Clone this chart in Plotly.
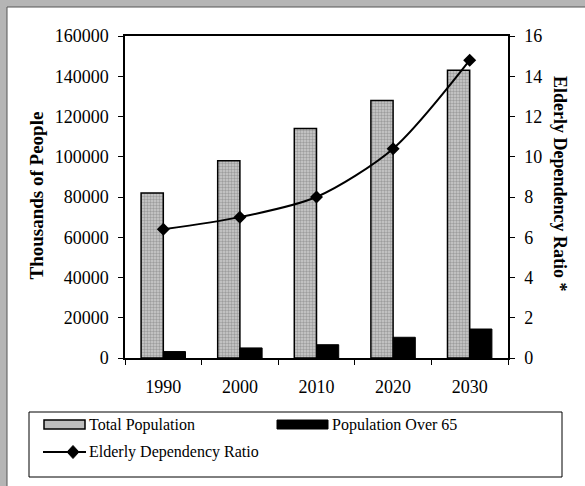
import plotly.graph_objects as go

years = ["1990", "2000", "2010", "2020", "2030"]
total_population = [82000, 98000, 114000, 128000, 143000]
population_over_65 = [3200, 5000, 6600, 10300, 14400]
dependency_ratio = [6.4, 7.0, 8.0, 10.4, 14.8]

legend_labels = ["Total Population", "Population Over 65", "Elderly Dependency Ratio"]

W, H = 585, 486
L, R, T, B = 125, 77, 36, 128
PW, PH = W - L - R, H - T - B


def px_x(p):
    return (p - L) / PW


def px_y(p):
    return (H - B - p) / PH


FONT = "Liberation Serif, Times New Roman, serif"
GRAY = "#bdbdbd"

fig = go.Figure()
fig.add_trace(go.Bar(
    x=years, y=total_population, name=legend_labels[0],
    marker=dict(color=GRAY, line=dict(color="black", width=1.5),
                pattern=dict(shape=".", fgcolor="#6e6e6e", bgcolor="#cdcdcd", size=3, solidity=0.5)),
))
fig.add_trace(go.Bar(
    x=years, y=population_over_65, name=legend_labels[1],
    marker=dict(color="black", line=dict(color="black", width=1)),
))
fig.add_trace(go.Scatter(
    x=years, y=dependency_ratio, name=legend_labels[2], yaxis="y2",
    mode="lines+markers", line=dict(color="black", width=2, shape="spline", smoothing=0.8),
    marker=dict(symbol="diamond", size=10, color="black"),
))

shapes = [
    # gray scanned border (top and left)
    dict(type="rect", xref="paper", yref="paper", x0=px_x(0), x1=px_x(W), y0=px_y(7), y1=px_y(0),
         fillcolor="#b5b5b5", line=dict(width=0), layer="below"),
    dict(type="rect", xref="paper", yref="paper", x0=px_x(0), x1=px_x(7), y0=px_y(H), y1=px_y(0),
         fillcolor="#b5b5b5", line=dict(width=0), layer="below"),
    dict(type="line", xref="paper", yref="paper", x0=px_x(7), x1=px_x(W), y0=px_y(7), y1=px_y(7),
         line=dict(color="#555", width=1)),
    dict(type="line", xref="paper", yref="paper", x0=px_x(7), x1=px_x(7), y0=px_y(7), y1=px_y(H),
         line=dict(color="#555", width=1)),
    # legend box
    dict(type="rect", xref="paper", yref="paper", x0=px_x(29), x1=px_x(562), y0=px_y(477), y1=px_y(412),
         fillcolor="white", line=dict(color="black", width=1)),
    # legend swatches
    dict(type="rect", xref="paper", yref="paper", x0=px_x(44), x1=px_x(85), y0=px_y(429), y1=px_y(420),
         fillcolor=GRAY, line=dict(color="black", width=1.5)),
    dict(type="rect", xref="paper", yref="paper", x0=px_x(277), x1=px_x(328), y0=px_y(429), y1=px_y(420),
         fillcolor="black", line=dict(color="black", width=1)),
    dict(type="line", xref="paper", yref="paper", x0=px_x(43), x1=px_x(86), y0=px_y(452), y1=px_y(452),
         line=dict(color="black", width=2)),
    dict(type="path", xref="paper", yref="paper",
         path="M {:.5f},{:.5f} L {:.5f},{:.5f} L {:.5f},{:.5f} L {:.5f},{:.5f} Z".format(
             px_x(67), px_y(452), px_x(73), px_y(445.5), px_x(79), px_y(452), px_x(73), px_y(458.5)),
         fillcolor="black", line=dict(color="black", width=1)),
]

annotations = [
    dict(text="<b>Thousands of People</b>", xref="paper", yref="paper", x=px_x(36), y=px_y(195.5),
         textangle=-90, showarrow=False, font=dict(family=FONT, size=19, color="black"),
         xanchor="center", yanchor="middle"),
    dict(text="<b>Elderly Dependency Ratio *</b>", xref="paper", yref="paper", x=px_x(560), y=px_y(184),
         textangle=90, showarrow=False, font=dict(family=FONT, size=18, color="black"),
         xanchor="center", yanchor="middle"),
]
for label, lx, ly in [(legend_labels[0], 87, 425), (legend_labels[1], 330, 425), (legend_labels[2], 87, 452)]:
    annotations.append(dict(text=label, xref="paper", yref="paper", x=px_x(lx), y=px_y(ly),
                            showarrow=False, xanchor="left", yanchor="middle",
                            font=dict(family=FONT, size=16, color="black")))

tick_font = dict(family=FONT, size=18, color="black")

fig.update_layout(
    width=W, height=H,
    margin=dict(l=L, r=R, t=T, b=B, pad=0),
    paper_bgcolor="white", plot_bgcolor="white",
    font=dict(family=FONT, size=16, color="black"),
    barmode="group", bargap=0.42, bargroupgap=0,
    showlegend=False,
    xaxis=dict(
        type="category", showline=True, linecolor="black", linewidth=1.5, mirror=True,
        ticks="outside", ticklen=5, tickcolor="black", tickson="boundaries",
        showgrid=False, ticklabelstandoff=12, tickfont=tick_font,
    ),
    yaxis=dict(
        range=[0, 160000], dtick=20000, showline=True, linecolor="black", linewidth=1.5,
        ticks="outside", ticklen=5, tickcolor="black", showgrid=False, zeroline=False,
        tickformat="d", ticklabelstandoff=6, tickfont=tick_font,
    ),
    yaxis2=dict(
        range=[0, 16], dtick=2, overlaying="y", side="right", showline=True,
        linecolor="black", linewidth=1.5, ticks="outside", ticklen=5, tickcolor="black",
        showgrid=False, zeroline=False, ticklabelstandoff=6, tickfont=tick_font,
    ),
    yaxis3=dict(
        range=[0, 160000], dtick=20000, overlaying="y", side="left", showline=False,
        ticks="inside", ticklen=4, tickcolor="black", showticklabels=False,
        showgrid=False, zeroline=False,
    ),
    yaxis4=dict(
        range=[0, 16], dtick=2, overlaying="y", side="right", showline=False,
        ticks="inside", ticklen=4, tickcolor="black", showticklabels=False,
        showgrid=False, zeroline=False,
    ),
    shapes=shapes,
    annotations=annotations,
)

fig.write_html("out.html", config={"displayModeBar": False},
               post_script="document.body.style.margin='0px';")
